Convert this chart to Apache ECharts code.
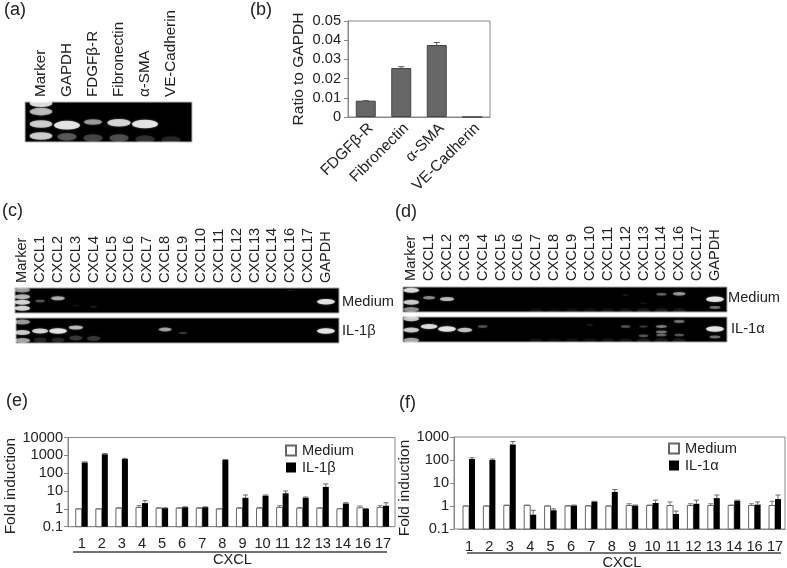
<!DOCTYPE html>
<html><head><meta charset="utf-8">
<style>html,body{margin:0;padding:0;background:#fff}#c{width:787px;height:568px;filter:blur(0.45px)}</style>
<script src="https://cdn.jsdelivr.net/npm/echarts@6/dist/echarts.min.js"></script>
</head><body><div id="c"></div>
<script>
// ---- data ----
const lanesA = ['Marker','GAPDH','FDGFβ-R','Fibronectin','α-SMA','VE-Cadherin'];
const lanesCXCL_C = ['Marker','CXCL1','CXCL2','CXCL3','CXCL4','CXCL5','CXCL6','CXCL7','CXCL8','CXCL9','CXCL10','CXCL11','CXCL12','CXCL13','CXCL14','CXCL16','CXCL17','GAPDH'];
const ratioCats = ['FDGFβ-R','Fibronectin','α-SMA','VE-Cadherin'];
const ratioVals = [0.0085,0.0255,0.0375,0];
const ratioErr = [0.0085,0.0262,0.0388,0];
const cxclCats = ['1','2','3','4','5','6','7','8','9','10','11','12','13','14','16','17'];
const eMedium = [1,1,1.1,1.2,1.1,1.1,1.1,1,1.1,1.1,1.2,1.1,1.1,1,1.15,1.2];
const eMediumTop = [1,1,1.15,1.5,1.15,1.15,1.15,1,1.15,1.2,1.5,1.2,1.15,1.05,1.45,1.5];
const eIL1b = [400,1150,620,2.1,1.1,1.25,1.25,550,4.2,5.5,7.5,4.2,17,2,1,1.5];
const eIL1bTop = [430,1250,680,2.9,1.15,1.3,1.3,590,6,6,10,4.6,25,2.2,1.05,2.2];
const fMedium = [1,1,1.05,1.05,1,1,1,1,1.05,1.05,1.05,1.05,1.05,1.05,1.05,1.05];
const fMediumTop = [1,1,1.1,1.1,1.02,1.05,1.05,1,1.25,1.1,1.5,1.25,1.25,1.1,1.25,1.6];
const fIL1a = [110,100,470,0.42,0.65,1.05,1.55,4.1,1.05,1.35,0.45,1.25,2.2,1.7,1.15,2];
const fIL1aTop = [125,110,640,0.65,0.75,1.1,1.6,5.2,1.1,1.8,0.6,1.8,3,1.8,1.5,3];
// gel bands: [lane index, migration fraction down the gel, intensity]
const gelABands = [[0,.03,.9],[0,.24,.7],[0,.55,.8],[0,.85,.8],[1,.58,1],[2,.5,.55],[3,.52,.85],[4,.55,1]];
const gelASmears = [[1,.87,.45],[2,.9,.35],[3,.9,.4],[4,.93,.25],[5,.95,.2]];
const gelCTopBands = [[0,.08,.55],[0,.35,.7],[0,.57,.85],[0,.81,.85],[1,.52,.3],[2,.41,.65],[3,.7,.08],[4,.75,.12],[15,.1,.1],[17,.55,1]];
const gelCBotBands = [[0,.16,.55],[0,.58,.8],[0,.9,.6],[1,.52,.85],[2,.52,1],[3,.38,.7],[8,.46,.6],[9,.6,.2],[17,.52,1]];
const gelCBotSmears = [[1,.88,.2],[2,.88,.2],[3,.8,.3],[4,.82,.3]];
const gelDTopBands = [[0,.13,.9],[0,.61,.8],[0,.9,.5],[1,.43,.5],[2,.48,.7],[12,.32,.1],[13,.65,.08],[14,.29,.35],[15,.27,.55],[17,.49,1],[17,.82,.4]];
const gelDBotBands = [[0,.07,.8],[0,.52,.8],[0,.93,.6],[1,.38,.9],[2,.48,1],[3,.52,.75],[4,.38,.3],[10,.32,.12],[12,.38,.3],[13,.38,.2],[13,.75,.3],[14,.38,.45],[14,.6,.4],[14,.72,.35],[15,.18,.4],[15,.72,.3],[17,.48,1],[17,.8,.4]];
const gelDSmears = [[7,.95,.1],[8,.95,.08],[9,.95,.1],[10,.95,.1],[11,.95,.12],[12,.95,.12],[13,.95,.15],[14,.95,.15],[15,.95,.15]];

// ---- helpers ----
const FONT = '"Liberation Sans",Arial,sans-serif', TXT = '#222', AX = '#888';
const grids = [], xAxes = [], yAxes = [], series = [];

function gel(left, top, width, height, cats, bands, smears, opts) {
  const g = grids.length;
  grids.push({left, top, width, height, outerBoundsMode:'none'});
  xAxes.push({gridIndex:g, type:'category', position:'top', data:cats, boundaryGap:true,
    axisLine:{show:false}, axisTick:{show:false},
    axisLabel:{show:opts.labels, rotate:90, interval:0, margin:opts.margin, fontFamily:FONT, fontSize:opts.font||14.6, color:TXT}});
  yAxes.push({gridIndex:g, type:'value', min:0, max:1, inverse:true, show:false});
  const lane = width / cats.length;
  series.push({type:'scatter', xAxisIndex:g, yAxisIndex:g, data:bands, silent:true, z:3,
    symbol:'circle',
    symbolSize:v => v[0] === 0 ? [lane*.88, opts.h*.55] : [lane*(.35+.65*v[2]), opts.h*(.12+.5*v[2])],
    itemStyle:{color:p => 'rgba(255,255,255,'+Math.min(1,p.value[2]*1.05)+')', shadowBlur:2, shadowColor:'rgba(255,255,255,.6)'}});
  if (smears) series.push({type:'scatter', xAxisIndex:g, yAxisIndex:g, data:smears, silent:true, z:2,
    symbol:'circle', symbolSize:[lane*.75, opts.h*.55],
    itemStyle:{color:p => 'rgba(255,255,255,'+p.value[2]*.8+')', shadowBlur:5, shadowColor:'rgba(255,255,255,.35)'}});
}

function errBars(g, vals, tops, off, capW, color) {
  series.push({type:'custom', xAxisIndex:g, yAxisIndex:g, silent:true, z:4,
    data:vals.map((v,i) => [i,v,tops[i]]),
    renderItem:(p,api) => {
      const a = api.coord([api.value(0),api.value(1)]), b = api.coord([api.value(0),api.value(2)]);
      const x = a[0]+off;
      return {type:'group', children:[
        {type:'line', shape:{x1:x,y1:a[1],x2:x,y2:b[1]}, style:{stroke:color,lineWidth:1}},
        {type:'line', shape:{x1:x-capW,y1:b[1],x2:x+capW,y2:b[1]}, style:{stroke:color,lineWidth:1}}]};
    }});
}

// bars on a log axis must rise from the axis minimum, so they are drawn through the axis scale
function logBars(g, name, vals, min, off, w, itemStyle) {
  series.push({type:'custom', name, xAxisIndex:g, yAxisIndex:g, silent:true, z:3, itemStyle,
    encode:{x:0,y:1},
    data:vals.map((v,i) => [i,v]),
    renderItem:(p,api) => {
      const a = api.coord([api.value(0),api.value(1)]), b = api.coord([api.value(0),min]);
      return {type:'rect', shape:{x:a[0]+off,y:a[1],width:w,height:b[1]-a[1]}, style:api.style()};
    }});
}

function foldPanel(left, top, width, height, offset, min, max, medium, mediumTop, il, ilTop, ilName, nameGap, namePad) {
  const g = grids.length;
  grids.push({left, top, width, height, outerBoundsMode:'none'});
  xAxes.push({gridIndex:g, type:'category', data:cxclCats, axisLine:{onZero:false,lineStyle:{color:AX}}, axisTick:{show:false},
    axisLabel:{interval:0, margin:10, fontFamily:FONT, fontSize:14.6, color:TXT},
    name:'CXCL', nameLocation:'middle', nameGap:26, nameTextStyle:{fontFamily:FONT,fontSize:14.6,color:TXT}});
  yAxes.push({gridIndex:g, type:'log', logBase:10, min, max, offset, splitLine:{show:false},
    axisLine:{show:true,lineStyle:{color:AX}}, axisTick:{show:true,length:4,lineStyle:{color:AX}},
    axisLabel:{margin:5, fontFamily:FONT, fontSize:14.6, color:TXT, formatter:v => String(+(+v).toPrecision(3))},
    name:'Fold induction', nameLocation:'middle', nameGap, nameTextStyle:{fontFamily:FONT,fontSize:15.5,color:TXT,padding:[0,namePad,0,0]}});
  logBars(g, 'Medium', medium, min, -6, 6, {color:'#fff',borderColor:'#666',borderWidth:1});
  logBars(g, ilName, il, min, 0, 6, {color:'#000',borderColor:'#000',borderWidth:0});
  errBars(g, medium, mediumTop, -3, 2.5, '#777');
  errBars(g, il, ilTop, 3, 2.5, '#666');
}

const rect = (x,y,w,h,fill,stroke) => ({type:'rect', z:0, silent:true, shape:{x,y,width:w,height:h}, style:{fill,stroke,lineWidth:1}});
const label = (t,x,y,size) => ({type:'text', z:10, silent:true, style:{text:t,x,y,font:size+'px '+FONT,fill:TXT,verticalAlign:'middle'}});
const rule = (x1,x2,y) => ({type:'line', z:10, silent:true, shape:{x1,y1:y,x2,y2:y}, style:{stroke:'#444',lineWidth:1.3}});

// (a) gel
gel(28,102,156,40,lanesA,gelABands,gelASmears,{labels:true,margin:5,h:14,font:15.2});

// (b) ratio bars
{
  const g = grids.length;
  grids.push({left:348, top:21, width:142, height:96, show:true, borderColor:AX, borderWidth:1, backgroundColor:'#fff', outerBoundsMode:'none'});
  xAxes.push({gridIndex:g, type:'category', data:ratioCats, axisLine:{lineStyle:{color:AX}}, axisTick:{show:false},
    axisLabel:{show:false}});
  yAxes.push({gridIndex:g, type:'value', min:0, max:0.05, interval:0.01, splitLine:{show:false},
    axisLine:{show:true,lineStyle:{color:AX}}, axisTick:{show:true,length:4,lineStyle:{color:AX}},
    axisLabel:{margin:7, fontFamily:FONT, fontSize:14.6, color:TXT},
    name:'Ratio to GAPDH', nameLocation:'middle', nameGap:41, nameTextStyle:{fontFamily:FONT,fontSize:15.5,color:TXT}});
  series.push({type:'bar', xAxisIndex:g, yAxisIndex:g, data:ratioVals, barWidth:20, silent:true,
    itemStyle:{color:'#666',borderColor:'#444',borderWidth:1}});
  errBars(g, ratioVals, ratioErr, 0, 3, '#555');
  // the slanted labels sit a little right of the bars in the reference: their own axis, same categories
  const l = grids.length;
  grids.push({left:353, top:21, width:142, height:96, outerBoundsMode:'none'});
  xAxes.push({gridIndex:l, type:'category', data:ratioCats, axisLine:{show:false}, axisTick:{show:false},
    axisLabel:{interval:0, rotate:45, margin:9, fontFamily:FONT, fontSize:15.4, color:TXT}});
  yAxes.push({gridIndex:l, type:'value', min:0, max:0.05, show:false});
}

// (c) gels
gel(13.3,288,321.6,25,lanesCXCL_C,gelCTopBands,null,{labels:true,margin:5,h:9});
gel(13.3,318,321.6,25,lanesCXCL_C,gelCBotBands,gelCBotSmears,{labels:false,margin:5,h:9});
// (d) gels
gel(402.3,287,321.6,25,lanesCXCL_C,gelDTopBands,gelDSmears,{labels:true,margin:6,h:9});
gel(402.3,317,321.6,25,lanesCXCL_C,gelDBotBands,gelDSmears,{labels:false,margin:6,h:9});

// (e), (f) fold induction
foldPanel(71.7,437.5,321.4,89.2,3.7,0.1,10000,eMedium,eMediumTop,eIL1b,eIL1bTop,'IL-1β',43,8);
foldPanel(458.8,437,326.4,92,4.8,0.1,1000,fMedium,fMediumTop,fIL1a,fIL1aTop,'IL-1α',28,10);

const legendBase = {orient:'vertical', itemWidth:10, itemHeight:10, itemGap:2, icon:'rect', selectedMode:false,
  padding:0, textStyle:{fontFamily:FONT,fontSize:14.6,color:TXT,padding:[0,0,0,1]}};

const option = {
  animation:false, backgroundColor:'#fff',
  grid:grids, xAxis:xAxes, yAxis:yAxes, series,
  legend:[
    Object.assign({}, legendBase, {left:285, top:443, data:['Medium','IL-1β']}),
    Object.assign({}, legendBase, {left:668, top:441, data:['Medium','IL-1α']})
  ],
  graphic:{elements:[
    rect(25,102,167,40,'#000','#bbb'),
    rect(15,288,324,25,'#000','#aaa'),
    rect(16,318,323,25,'#000','#aaa'),
    rect(403,287,324,25,'#000','#aaa'),
    rect(403,317,324,25,'#000','#aaa'),
    {type:'rect', z:1, silent:true, shape:{x:68,y:437.5,width:327,height:89.2}, style:{fill:'none',stroke:AX,lineWidth:1}},
    {type:'rect', z:1, silent:true, shape:{x:454,y:437,width:331,height:92}, style:{fill:'none',stroke:AX,lineWidth:1}},
    rule(73,387,552), rule(467,781,553),
    label('(a)',4,10,18), label('(b)',250,10,18), label('(c)',2,211,18), label('(d)',395,212,18), label('(e)',6,401,18), label('(f)',399,403,18),
    label('Medium',342,302,14.6), label('IL-1β',342,331,14.6), label('Medium',728,298,14.6), label('IL-1α',731,329,14.6)
  ]}
};
echarts.init(document.getElementById('c'),null,{renderer:'canvas'}).setOption(option);
</script></body></html>
